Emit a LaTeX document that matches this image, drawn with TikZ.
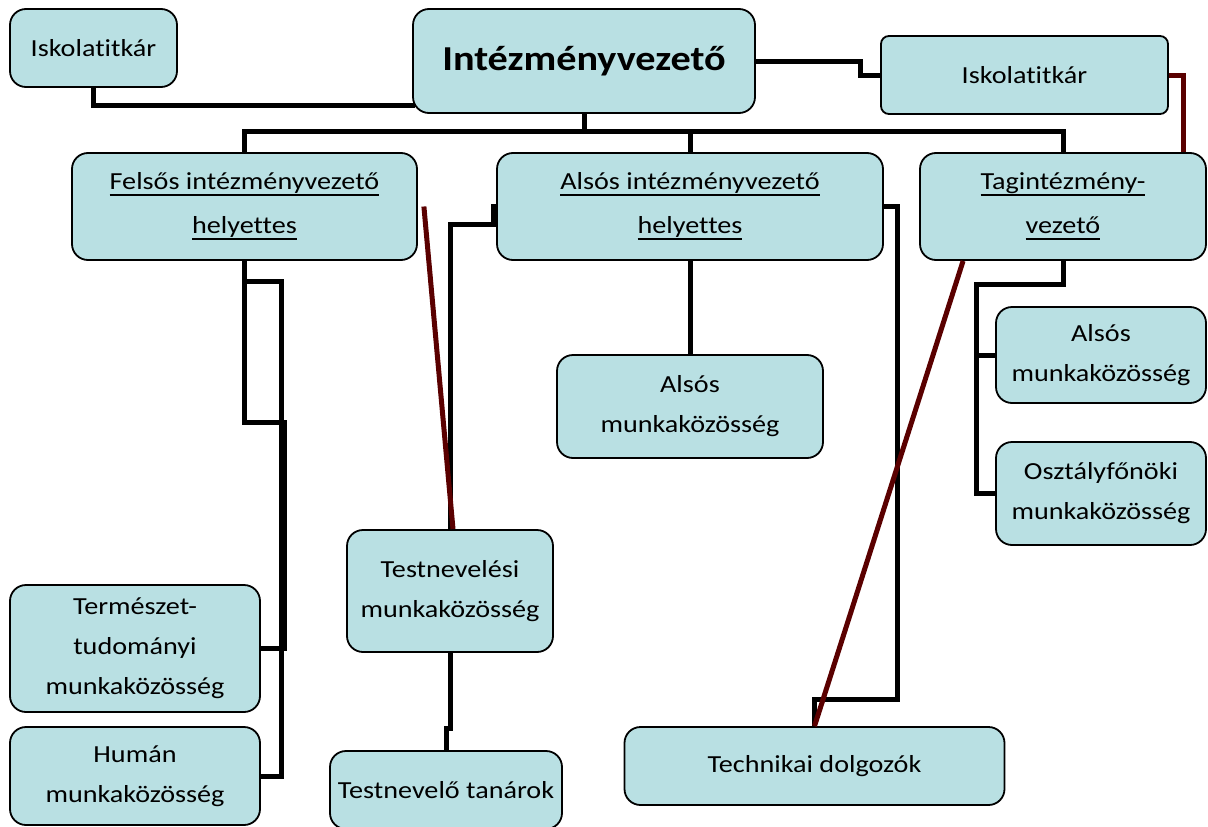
\documentclass[tikz,border=0pt]{standalone}
\usepackage{fontspec}
\setmainfont{Carlito}[Ligatures=NoCommon, FakeStretch=1.15]
\usepackage{tikz}
\usetikzlibrary{positioning}
\definecolor{boxfill}{RGB}{185,224,227}
\definecolor{darkmaroon}{RGB}{90,0,0}
\tikzset{
    unit/.style={rectangle, rounded corners=16pt, draw=black, line width=1.8pt, fill=boxfill, align=center, inner sep=0pt, font=\fontsize{24.5}{40}\selectfont},
    head/.style={unit, font=\fontsize{24.5}{44}\selectfont},
    link/.style={line width=5pt, draw=black},
    redlink/.style={line width=5pt, draw=darkmaroon},
}
% underline with a fixed depth and a heavier rule
\newcommand{\undl}[1]{\setbox0\hbox{#1}\rlap{\rule[-6.2pt]{\wd0}{2.3pt}}\box0}

\begin{document}
\begin{tikzpicture}[x=1pt, y=-1pt]
    \useasboundingbox (0,0) rectangle (1208,827);
    \clip (0,0) rectangle (1208,827);
    % top row
    \node[unit, minimum width=167pt, minimum height=78pt] (titkar1) at (93.5,48) {Iskolatitkár};
    \node[unit, minimum width=342pt, minimum height=104pt, font=\bfseries\fontsize{35}{40}\selectfont] (vezeto) at (584,61) {Intézményvezető};
    \node[unit, rounded corners=8pt, minimum width=287pt, minimum height=78pt] (titkar2) at (1024.5,75) {Iskolatitkár};
    % deputies
    \node[head, minimum width=345pt, minimum height=107pt] (felsos) at (244.5,206.5) {\undl{Felsős intézményvezető}\\\undl{helyettes}};
    \node[head, minimum width=386pt, minimum height=107pt] (also) at (690,206.5) {\undl{Alsós intézményvezető}\\\undl{helyettes}};
    \node[head, minimum width=286pt, minimum height=107pt] (tag) at (1063,206.5) {\undl{Tagintézmény-}\\\undl{vezető}};
    % groups
    \node[unit, minimum width=266pt, minimum height=103pt] (alsomk) at (690,406.5) {Alsós\\munkaközösség};
    \node[unit, minimum width=210pt, minimum height=96pt] (tagalso) at (1101,355) {Alsós\\munkaközösség};
    \node[unit, minimum width=210pt, minimum height=103pt] (osztaly) at (1101,493.5) {Osztályfőnöki\\munkaközösség};
    \node[unit, minimum width=206pt, minimum height=122pt] (testmk) at (450,591) {Testnevelési\\munkaközösség};
    \node[unit, minimum width=250pt, minimum height=127pt] (termesz) at (135,648.5) {Természet-\\tudományi\\munkaközösség};
    \node[unit, minimum width=250pt, minimum height=98pt] (human) at (135,776) {Humán\\munkaközösség};
    \node[unit, minimum width=232pt, minimum height=78pt] (tanarok) at (446,790) {Testnevelő tanárok};
    \node[unit, minimum width=380pt, minimum height=78pt] (techn) at (814.5,766) {Technikai dolgozók};

    % black connectors
    \draw[link] (titkar1.south) |- ([xshift=3pt, yshift=-44pt]vezeto.west);
    \draw[link] (vezeto.east) -- ++(105,0) |- (titkar2.west);
    \path (vezeto.south) ++(0,18) coordinate (bus);
    \draw[link] (vezeto.south) -- (bus);
    \draw[link] (felsos.north) |- (bus) -| (tag.north);
    \draw[link] (also.north) -- (also.north |- bus);
    \draw[link] (felsos.south) |- ++(40,162) |- (termesz.east);
    \draw[link] (felsos.south) |- ++(37,21) |- (human.east);
    \draw[link] (also.west) -- ++(-3,0) -- ++(0,18) -| (testmk.north);
    \draw[link] (testmk.south) -- ++(0,76) -| (tanarok.north);
    \draw[link] (also.south) -- (alsomk.north);
    \draw[link] (also.east) -- ++(14,0) |- ([yshift=27pt]techn.north) -- (techn.north);
    \draw[link] (tag.south) |- ++(-87,24) |- (tagalso.west);
    \draw[link] (tag.south) |- ++(-87,24) |- (osztaly.west);

    % red connectors
    \draw[redlink] (titkar2.east) -| ([xshift=-23pt]tag.north east);
    \draw[redlink] ([xshift=6pt]felsos.east) -- ([xshift=3pt]testmk.north);
    \draw[redlink] ([xshift=44pt]tag.south west) -- (techn.north);
\end{tikzpicture}
\end{document}
